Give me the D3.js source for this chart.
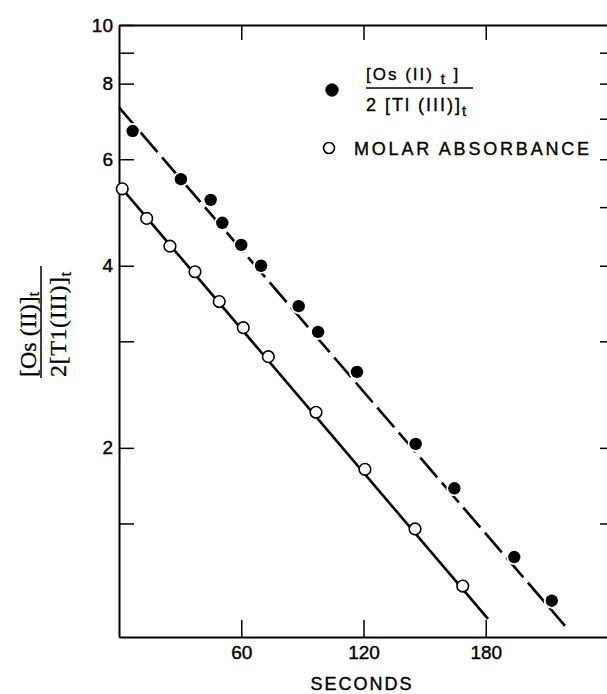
<!DOCTYPE html>
<html>
<head>
<meta charset="utf-8">
<script src="https://cdn.jsdelivr.net/npm/d3@7"></script>
<style>
  body { margin: 0; background: #fff; }
  svg { display: block; }
</style>
</head>
<body>
<div id="chart"></div>
<script>
// filled circles: [Os(II)]t / 2[Tl(III)]t
const filledSec = [6.7, 30.4, 45.0, 50.7, 60.0, 69.7, 88.2, 97.7, 116.8, 145.6, 164.6, 194.0, 212.4]
const filledRatio = [6.68, 5.56, 5.14, 4.71, 4.33, 4.00, 3.43, 3.11, 2.67, 2.03, 1.715, 1.32, 1.118]

// open circles: molar absorbance
const openSec = [1.6, 13.6, 25.0, 37.3, 49.2, 61.0, 73.3, 96.7, 120.7, 145.3, 168.7]
const openRatio = [5.36, 4.79, 4.31, 3.91, 3.49, 3.16, 2.83, 2.29, 1.843, 1.469, 1.182]

// fitted lines (end points)
const dashedSec = [0, 218.9]
const dashedRatio = [7.31, 1.016]
const solidSec = [1.6, 181.1]
const solidRatio = [5.36, 1.043]

const secTicks = [60, 120, 180]
const ratioLabels = [10, 8, 6, 4, 2]
const leftTicks = [10, 9, 8, 6, 4, 3, 2, 1.5]
const rightTicks = [9, 8, 7, 6, 5, 4, 3, 2, 1.5]

const W = 607, H = 694
const sans = 'Liberation Sans, Arial, sans-serif'
const serif = 'Liberation Serif, Times New Roman, serif'

const svg = d3.select('#chart').append('svg')
  .attr('width', W)
  .attr('height', H)

const x = d3.scaleLinear().domain([0, 240]).range([119, 608])
const y = d3.scaleLog().domain([0.9737, 10]).range([637, 25])

function styleAxis(g) {
  g.attr('font-family', sans).attr('font-size', 19)
  g.select('.domain').attr('stroke-width', 2)
  g.selectAll('.tick line').attr('stroke-width', 1.5)
  g.selectAll('.tick text').attr('stroke', '#000').attr('stroke-width', 0.4)
}

// bottom axis
svg.append('g')
  .attr('transform', `translate(0,${y.range()[0]})`)
  .call(d3.axisBottom(x).tickValues(secTicks).tickSizeInner(-17).tickSizeOuter(0).tickPadding(9))
  .call(styleAxis)

// top axis
svg.append('g')
  .attr('transform', `translate(0,${y.range()[1]})`)
  .call(d3.axisTop(x).tickValues(secTicks).tickSizeInner(-15).tickSizeOuter(0).tickFormat(''))
  .call(styleAxis)

// left axis
svg.append('g')
  .attr('transform', `translate(${x(0)},0)`)
  .call(d3.axisLeft(y).tickValues(leftTicks).tickSizeInner(-15).tickSizeOuter(0).tickPadding(6)
    .tickFormat(d => ratioLabels.includes(d) ? d : ''))
  .call(styleAxis)

// right axis
svg.append('g')
  .attr('transform', `translate(${x(240) + 1},0)`)
  .call(d3.axisRight(y).tickValues(rightTicks).tickSizeInner(-9).tickSizeOuter(0).tickFormat(''))
  .call(styleAxis)

// x title
svg.append('text')
  .attr('x', 362).attr('y', 690)
  .attr('text-anchor', 'middle')
  .attr('font-family', sans).attr('font-size', 18)
  .attr('letter-spacing', 2)
  .attr('stroke', '#000').attr('stroke-width', 0.4)
  .text('SECONDS')

// y title (rotated fraction)
const yt = svg.append('g')
  .attr('transform', 'translate(41,322) rotate(-90)')
  .attr('font-family', serif).attr('font-size', 24)
  .attr('stroke', '#000').attr('stroke-width', 0.3)
yt.append('line')
  .attr('x1', -56).attr('x2', 56).attr('y1', 0).attr('y2', 0)
  .attr('stroke', '#000').attr('stroke-width', 1.5)
const num = yt.append('text').attr('x', -55).attr('y', -5)
num.append('tspan').text('[Os (II)]')
num.append('tspan').attr('dy', 3).attr('font-size', 17).text('t')
const den = yt.append('text').attr('x', -55).attr('y', 25).attr('letter-spacing', 0.6)
den.append('tspan').text('2[T1(III)]')
den.append('tspan').attr('dy', 5).attr('font-size', 17).text('t')

// fitted lines
const line = d3.line().x(d => x(d[0])).y(d => y(d[1]))

svg.append('path')
  .datum(d3.zip(dashedSec, dashedRatio))
  .attr('d', line)
  .attr('fill', 'none').attr('stroke', '#000').attr('stroke-width', 2.6)
  .attr('stroke-dasharray', '26,7')

svg.append('path')
  .datum(d3.zip(solidSec, solidRatio))
  .attr('d', line)
  .attr('fill', 'none').attr('stroke', '#000').attr('stroke-width', 2.6)

// filled points with small white halo
const filled = d3.zip(filledSec, filledRatio)
svg.append('g').selectAll('circle')
  .data(filled).join('circle')
  .attr('cx', d => x(d[0])).attr('cy', d => y(d[1]))
  .attr('r', 8).attr('fill', '#fff')
svg.append('g').selectAll('circle')
  .data(filled).join('circle')
  .attr('cx', d => x(d[0])).attr('cy', d => y(d[1]))
  .attr('r', 6.2).attr('fill', '#000')

// open points
svg.append('g').selectAll('circle')
  .data(d3.zip(openSec, openRatio)).join('circle')
  .attr('cx', d => x(d[0])).attr('cy', d => y(d[1]))
  .attr('r', 5.8).attr('fill', '#fff').attr('stroke', '#000').attr('stroke-width', 1.6)

// legend
const lg = svg.append('g').attr('font-family', sans).attr('font-size', 17).attr('letter-spacing', 2)
  .attr('stroke', '#000').attr('stroke-width', 0.35)
lg.append('circle').attr('cx', 332).attr('cy', 90).attr('r', 6.5).attr('fill', '#000')
const ln = lg.append('text').attr('x', 366).attr('y', 80)
ln.append('tspan').text('[Os (II) ')
ln.append('tspan').attr('dy', 4).attr('font-size', 15).text('t')
ln.append('tspan').attr('dy', -4).text(' ]')
lg.append('line')
  .attr('x1', 366).attr('x2', 473).attr('y1', 88).attr('y2', 88)
  .attr('stroke', '#000').attr('stroke-width', 1.5)
const ld = lg.append('text').attr('x', 366).attr('y', 111).attr('font-size', 18)
ld.append('tspan').text('2 [Tl (III)]')
ld.append('tspan').attr('dy', 5).attr('font-size', 15).text('t')

lg.append('circle').attr('cx', 329).attr('cy', 148).attr('r', 5.5)
  .attr('fill', '#fff').attr('stroke', '#000').attr('stroke-width', 1.6)
lg.append('text').attr('x', 354).attr('y', 155).attr('font-size', 18).attr('letter-spacing', 2.8)
  .text('MOLAR ABSORBANCE')
</script>
</body>
</html>
